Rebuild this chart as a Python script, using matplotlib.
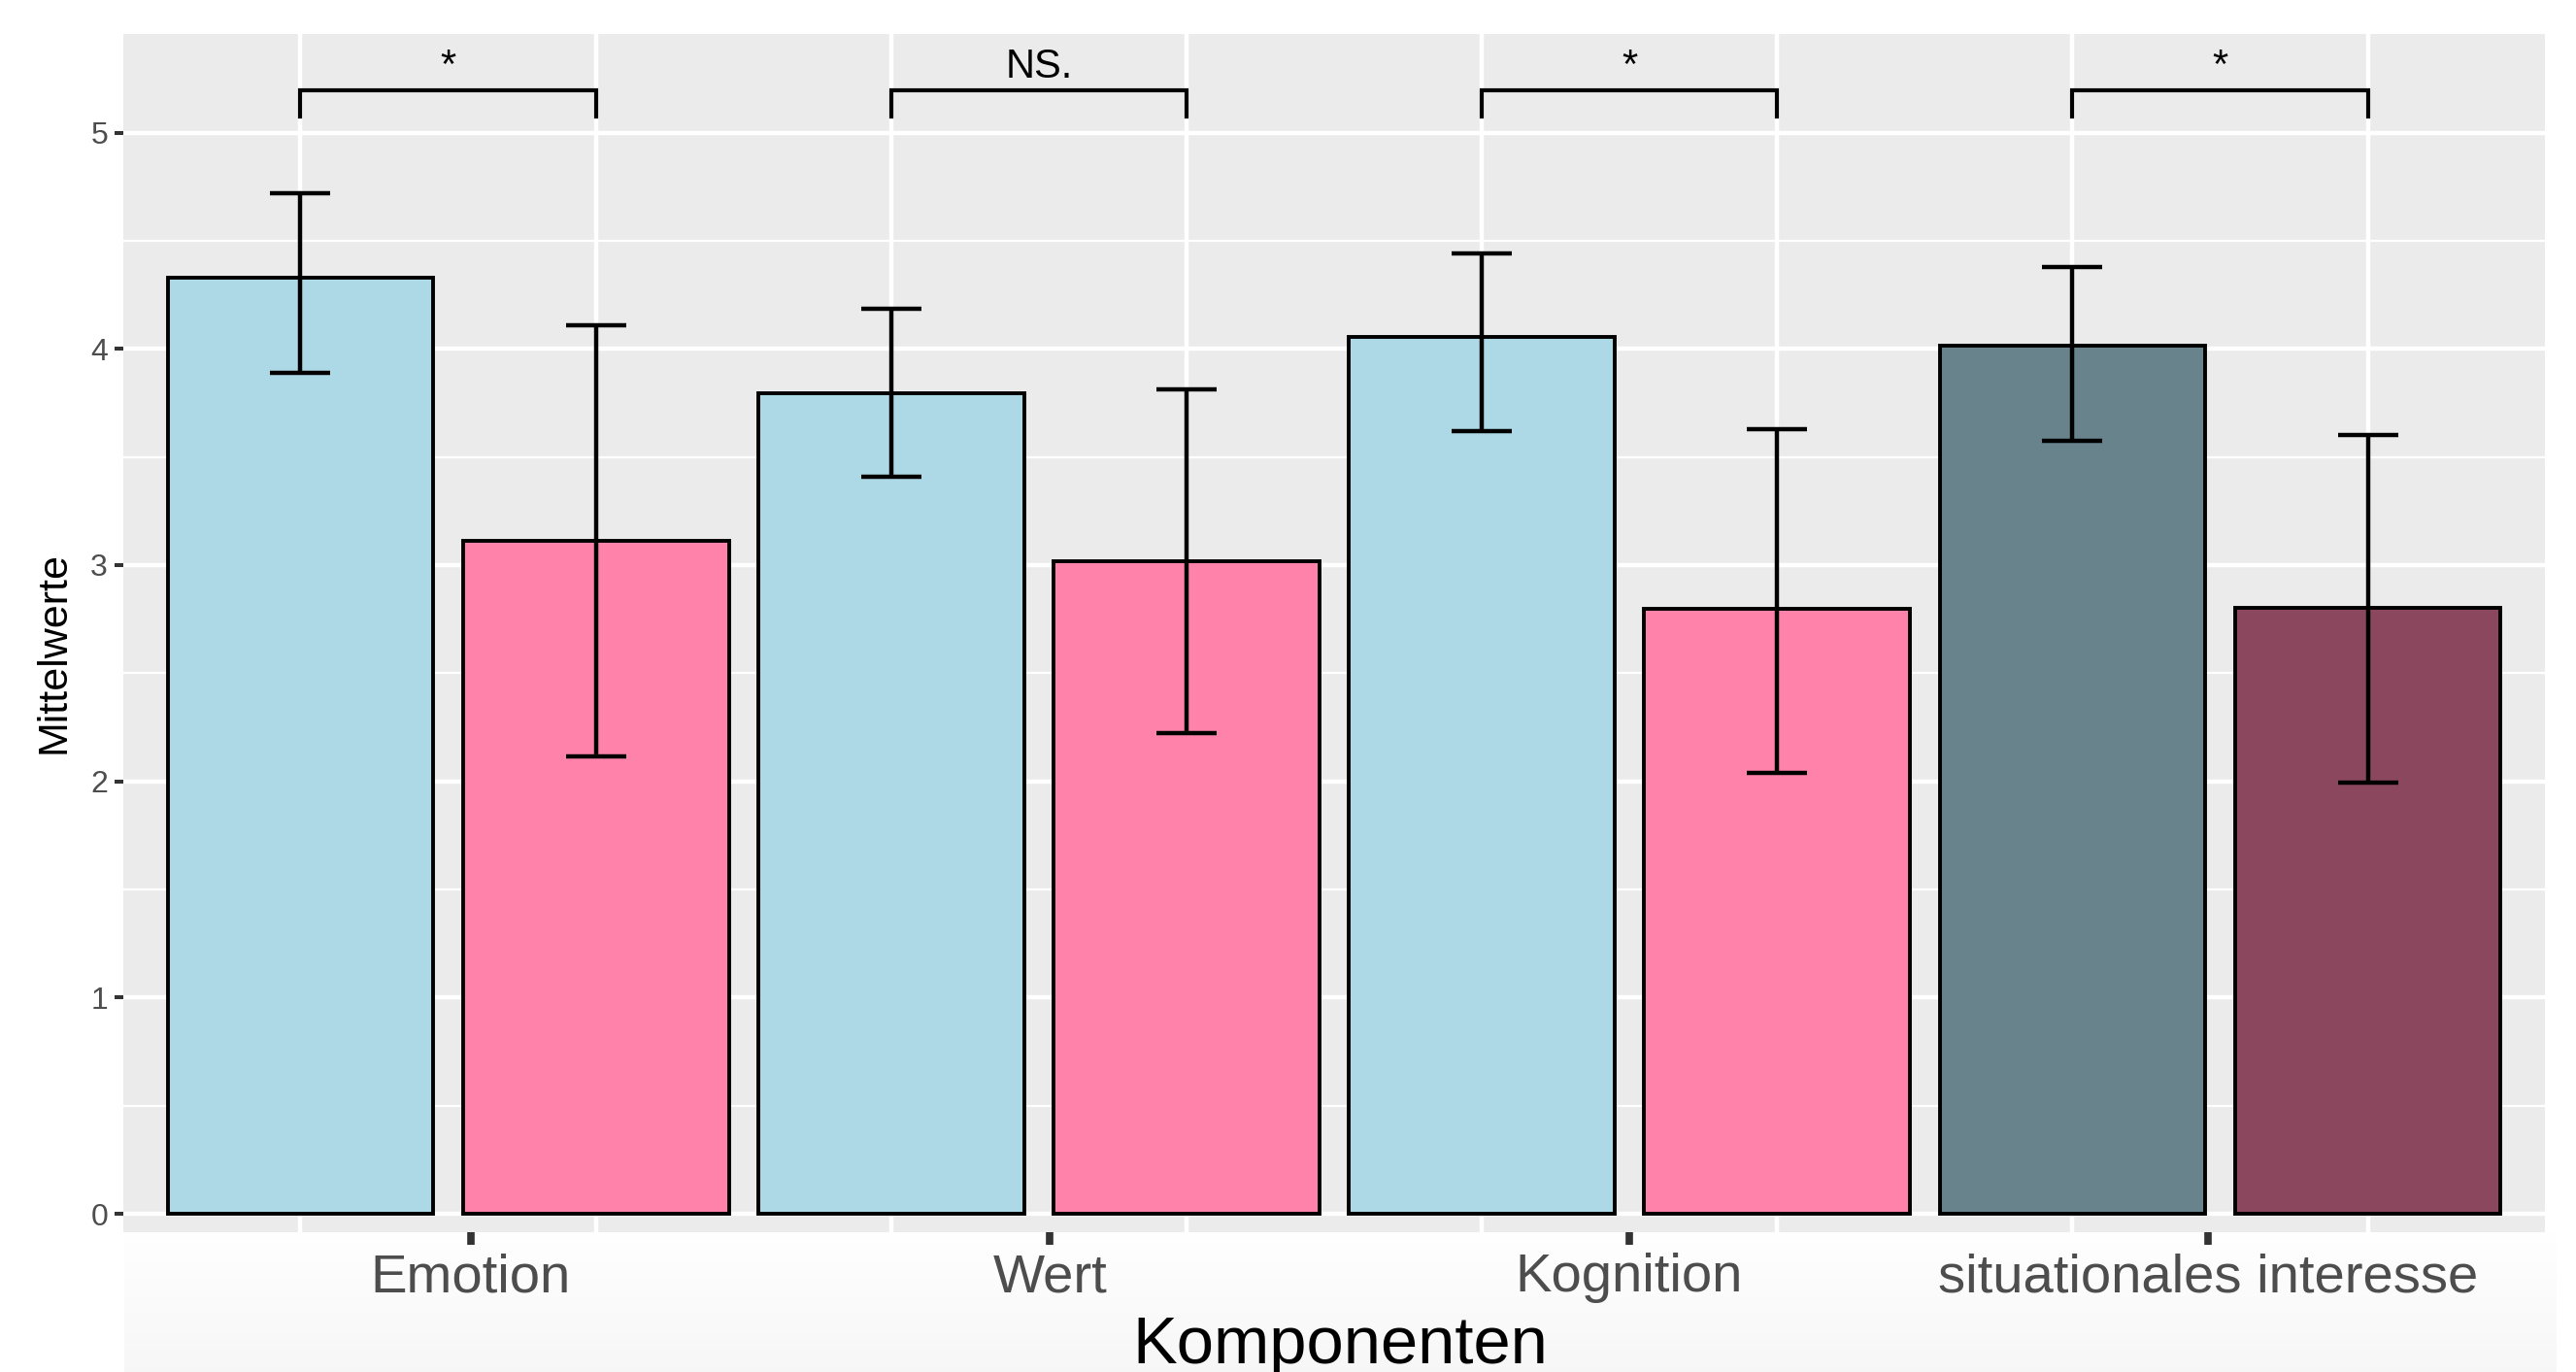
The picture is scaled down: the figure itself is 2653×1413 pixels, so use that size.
import numpy as np
import matplotlib
matplotlib.use("Agg")
import matplotlib.pyplot as plt

plt.rcParams['font.family'] = ['Liberation Sans', 'DejaVu Sans']

# data
groups = ["Emotion", "Wert", "Kognition", "situationales interesse"]
means = [4.33, 3.11, 3.796, 3.018, 4.054, 2.798, 4.014, 2.804]
err_hi = [4.72, 4.11, 4.184, 3.814, 4.442, 3.628, 4.378, 3.60]
err_lo = [3.888, 2.114, 3.408, 2.224, 3.62, 2.038, 3.576, 1.996]
fills = ["#ADD8E6", "#FF82AB", "#ADD8E6", "#FF82AB",
         "#ADD8E6", "#FF82AB", "#68838B", "#8B475D"]
sig_labels = ["*", "NS.", "*", "*"]

W, H = 2653, 1413
fig = plt.figure(figsize=(W / 100, H / 100), dpi=100)

# faint gradient strip under the panel
gax = fig.add_axes([128 / W, 0, 2505 / W, 144 / H], zorder=-1)
grad = np.linspace(0.998, 0.968, 64)[:, None, None] * np.ones((1, 1, 3))
gax.imshow(grad, aspect="auto", extent=(0, 1, 0, 1))
gax.axis("off")

ax = fig.add_axes([127 / W, 144 / H, 2494 / W, 1234 / H])
ax.set_facecolor("#EBEBEB")
x = np.arange(1, len(means) + 1)
m = np.array(means)
ax.bar(x, m, width=0.9, color=fills, edgecolor="black", linewidth=2.8, zorder=3)
ax.errorbar(x, m, yerr=[m - np.array(err_lo), np.array(err_hi) - m], fmt="none",
            ecolor="black", elinewidth=3.2, capsize=22, capthick=3.2, zorder=4)

# significance brackets
for i, lab in enumerate(sig_labels):
    x0, x1 = x[2 * i], x[2 * i + 1]
    ax.plot([x0, x0, x1, x1], [5.074, 5.197, 5.197, 5.074], color="black",
            lw=3, solid_joinstyle="miter", zorder=4)
    ax.text((x0 + x1) / 2, 5.254, lab, ha="center", va="baseline",
            fontsize=30, color="black", zorder=5)

ax.set_xlim(0.4, 8.6)
ax.set_ylim(-0.085, 5.456)
ax.set_xticks(x)
ax.set_xticklabels([])
ax.tick_params(axis="x", length=0)
ax.set_yticks(range(0, 6))
ax.set_yticks(np.arange(0.5, 5.5, 1.0), minor=True)
ax.tick_params(axis="y", which="major", length=6.5, width=2.9, color="#333333",
               labelsize=23, labelcolor="#4D4D4D", pad=5)
ax.tick_params(axis="y", which="minor", length=0)
ax.grid(True, which="major", color="white", lw=3.2, zorder=0)
ax.grid(True, which="minor", axis="y", color="white", lw=1.6, zorder=0)
ax.set_axisbelow(True)
for s in ax.spines.values():
    s.set_visible(False)
ax.set_ylabel("Mittelwerte", fontsize=31, color="black")
ax.yaxis.set_label_coords(-0.0205, 0.484)

# category axis of the lower strip
ax2 = ax.twiny()
ax2.set_xlim(0.4, 0.4 + 2494 / 596.5)
ax2.xaxis.set_ticks_position("bottom")
ax2.xaxis.set_label_position("bottom")
ax2.set_xticks(range(1, len(groups) + 1))
ax2.set_xticklabels(groups)
ax2.tick_params(axis="x", length=9.4, width=5.5, color="#333333",
                labelsize=40.5, labelcolor="#4D4D4D", pad=6)
for s in ax2.spines.values():
    s.set_visible(False)

fig.text(1380 / W, 9 / H, "Komponenten", ha="center", va="baseline",
         fontsize=49.5, color="black")

fig.savefig("out.png", dpi=100)
